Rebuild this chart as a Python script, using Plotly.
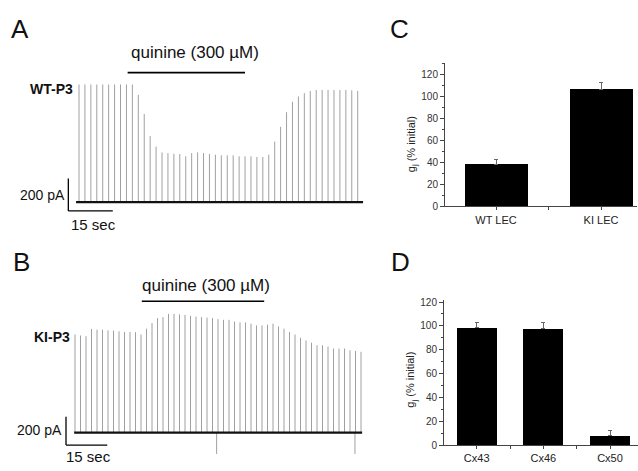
import plotly.graph_objects as go

W, H = 638, 471
FONT = "Liberation Sans, Arial, sans-serif"

# ---------------- data ----------------
SPIKE_INTERVAL_S = 2.0
# peak junctional current amplitudes (pA), one per voltage pulse
amp_wt = [727, 727, 727, 727, 727, 727, 727, 727, 727, 727,
          663, 545, 408, 343, 307, 303, 299, 297, 283, 303,
          307, 303, 297, 293, 289, 289, 289, 283, 283, 283,
          279, 279, 293, 374, 465, 556, 620, 653, 673, 687,
          693, 693, 693, 693, 693, 693, 691, 687]
amp_ki = [690, 683, 678, 729, 724, 724, 719, 717, 712, 708,
          708, 706, 690, 731, 770, 805, 812, 835, 835, 832,
          828, 821, 816, 812, 809, 805, 798, 793, 793, 781,
          775, 775, 766, 754, 754, 759, 766, 747, 731, 708,
          690, 667, 648, 632, 614, 614, 605, 591, 591, 591,
          579, 575, 568]
artifact_ki_t = [51.5, 101.8]
artifact_ki_amp = [-150, -150]
quinine_wt = [16.4, 56.0]   # s
quinine_ki = [24.3, 68.8]   # s
SCALE_PA = 200
SCALE_S = 15

c_labels = ["WT LEC", "KI LEC"]
c_values = [37.8, 106.8]
c_errors = [5.0, 6.0]

d_labels = ["Cx43", "Cx46", "Cx50"]
d_values = [98.8, 97.7, 8.0]
d_errors = [3.8, 4.9, 4.0]
Y_TICKS = [0, 20, 40, 60, 80, 100, 120]


# ---------------- helpers ----------------
def xdom(p0, p1):
    return [p0 / W, p1 / W]


def ydom(pb, pt):
    return [1 - pb / H, 1 - pt / H]


def xrng(p0, p1, origin, ppu):
    return [(p0 - origin) / ppu, (p1 - origin) / ppu]


def yrng(pb, pt, origin, ppu):
    return [(origin - pb) / ppu, (origin - pt) / ppu]


def spikes(amps, interval):
    xs, ys = [], []
    for i, a in enumerate(amps):
        t = i * interval
        xs += [t, t, None]
        ys += [0, a, None]
    return xs, ys


fig = go.Figure()

# ---- trace A (WT) ----
xs, ys = spikes(amp_wt, SPIKE_INTERVAL_S)
fig.add_trace(go.Scatter(x=xs, y=ys, mode="lines", line=dict(color="#a0a0a0", width=1),
                         xaxis="x", yaxis="y", hoverinfo="skip"))
t_end_wt = (len(amp_wt) - 1) * SPIKE_INTERVAL_S
fig.add_trace(go.Scatter(x=[-1, t_end_wt + 1.8], y=[0, 0], mode="lines",
                         line=dict(color="#111", width=2.4), xaxis="x", yaxis="y", hoverinfo="skip"))

# ---- trace B (KI) ----
xs, ys = spikes(amp_ki, SPIKE_INTERVAL_S)
ax_, ay_ = [], []
for t, a in zip(artifact_ki_t, artifact_ki_amp):
    ax_ += [t, t, None]
    ay_ += [0, a, None]
fig.add_trace(go.Scatter(x=xs + ax_, y=ys + ay_, mode="lines", line=dict(color="#a0a0a0", width=1),
                         xaxis="x2", yaxis="y2", hoverinfo="skip"))
t_end_ki = (len(amp_ki) - 1) * SPIKE_INTERVAL_S
fig.add_trace(go.Scatter(x=[-0.3, t_end_ki + 0.4], y=[0, 0], mode="lines",
                         line=dict(color="#111", width=2.4), xaxis="x2", yaxis="y2", hoverinfo="skip"))

# ---- bar C ----
fig.add_trace(go.Bar(x=[1, 2], y=c_values, width=0.6, marker=dict(color="black", line=dict(width=0)),
                     error_y=dict(type="data", array=c_errors, arrayminus=[0] * len(c_errors),
                                  symmetric=False, thickness=1, width=2, color="#666"),
                     xaxis="x3", yaxis="y3"))
# ---- bar D ----
fig.add_trace(go.Bar(x=[1, 2, 3], y=d_values, width=0.6, marker=dict(color="black", line=dict(width=0)),
                     error_y=dict(type="data", array=d_errors, arrayminus=[0] * len(d_errors),
                                  symmetric=False, thickness=1, width=2, color="#666"),
                     xaxis="x4", yaxis="y4"))

hidden = dict(visible=False, showgrid=False, zeroline=False)
tickfont = dict(family=FONT, size=10, color="#333")

bar_y = dict(showline=True, linecolor="#444", linewidth=1, ticks="outside", ticklen=4,
             tickcolor="#444", tickvals=Y_TICKS, tickfont=tickfont, showgrid=False, zeroline=False,
             minor=dict(dtick=10, ticks="outside", ticklen=2, tickcolor="#444"))
bar_x = dict(showline=True, linecolor="#444", linewidth=1, ticks="outside", ticklen=3,
             tickcolor="#444", tickfont=dict(family=FONT, size=11, color="#222"),
             showgrid=False, zeroline=False)

fig.update_layout(
    width=W, height=H, margin=dict(l=0, r=0, t=0, b=0),
    paper_bgcolor="white", plot_bgcolor="white", showlegend=False,
    font=dict(family=FONT, color="#111"),
    xaxis=dict(domain=xdom(60, 370), range=xrng(60, 370, 79, 2.965), **hidden),
    yaxis=dict(domain=ydom(232, 55), range=yrng(232, 55, 203, 0.165), **hidden),
    xaxis2=dict(domain=xdom(60, 370), range=xrng(60, 370, 75, 2.75), **hidden),
    yaxis2=dict(domain=ydom(471, 290), range=yrng(471, 290, 438, 0.145), **hidden),
    xaxis3=dict(domain=xdom(445, 637), range=xrng(445, 637, 391, 105), tickvals=[1, 2],
                ticktext=c_labels, minor=dict(tickvals=[1.5], ticks="outside", ticklen=3, tickcolor="#444"),
                anchor="y3", **bar_x),
    yaxis3=dict(domain=ydom(207.3, 61.5), range=[0, (207.3 - 61.5) / 1.12], anchor="x3", **bar_y),
    xaxis4=dict(domain=xdom(444, 638), range=xrng(444, 638, 410.05, 66.65), tickvals=[1, 2, 3],
                ticktext=d_labels, minor=dict(tickvals=[1.5, 2.5], ticks="outside", ticklen=3, tickcolor="#444"),
                anchor="y4", **bar_x),
    yaxis4=dict(domain=ydom(450.7, 302.5), range=[0, (450.7 - 302.5) / 1.215], anchor="x4", **bar_y),
    bargap=0,
)

shapes = []
# quinine application bars
shapes.append(dict(type="line", xref="x", yref="paper", x0=quinine_wt[0], x1=quinine_wt[1],
                   y0=1 - 71 / H, y1=1 - 71 / H, line=dict(color="black", width=1.6)))
shapes.append(dict(type="line", xref="x2", yref="paper", x0=quinine_ki[0], x1=quinine_ki[1],
                   y0=1 - 304 / H, y1=1 - 304 / H, line=dict(color="black", width=1.6)))
# scale bars
for xr_, yr_, t0, y0 in (("x", "y", -3.6, -54.5), ("x2", "y2", -3.27, -87.6)):
    shapes.append(dict(type="line", xref=xr_, yref=yr_, x0=t0, x1=t0, y0=y0, y1=y0 + SCALE_PA,
                       line=dict(color="black", width=1.3)))
    shapes.append(dict(type="line", xref=xr_, yref=yr_, x0=t0, x1=t0 + SCALE_S, y0=y0, y1=y0,
                       line=dict(color="black", width=1.3)))
fig.update_layout(shapes=shapes)


def ann(text, x, y, size, xanchor="center", color="#111", angle=0):
    fig.add_annotation(text=text, x=x / W, y=1 - y / H, xref="paper", yref="paper",
                       xanchor=xanchor, yanchor="middle", showarrow=False, textangle=angle,
                       font=dict(family=FONT, size=size, color=color))


ann("A", 20, 26, 26)
ann("B", 21, 264, 26)
ann("C", 399, 26, 26)
ann("D", 400, 264, 26)
ann("quinine (300 µM)", 195, 50, 17)
ann("quinine (300 µM)", 206, 288, 17)
ann("<b>WT-P3</b>", 75, 88, 14, "right")
ann("<b>KI-P3</b>", 72, 340, 14, "right")
ann("200 pA", 67, 196, 14, "right")
ann("200 pA", 64, 435, 14, "right")
ann("15 sec", 69, 226, 15, "left")
ann("15 sec", 64, 462, 15, "left")
ann("g<sub>j</sub> (% initial)", 412, 144, 11, angle=-90, color="#222")
ann("g<sub>j</sub> (% initial)", 411, 384, 11, angle=-90, color="#222")

fig.write_html("out.html", config={"displayModeBar": False},
               post_script="document.body.style.margin='0';document.body.style.overflow='hidden';")
